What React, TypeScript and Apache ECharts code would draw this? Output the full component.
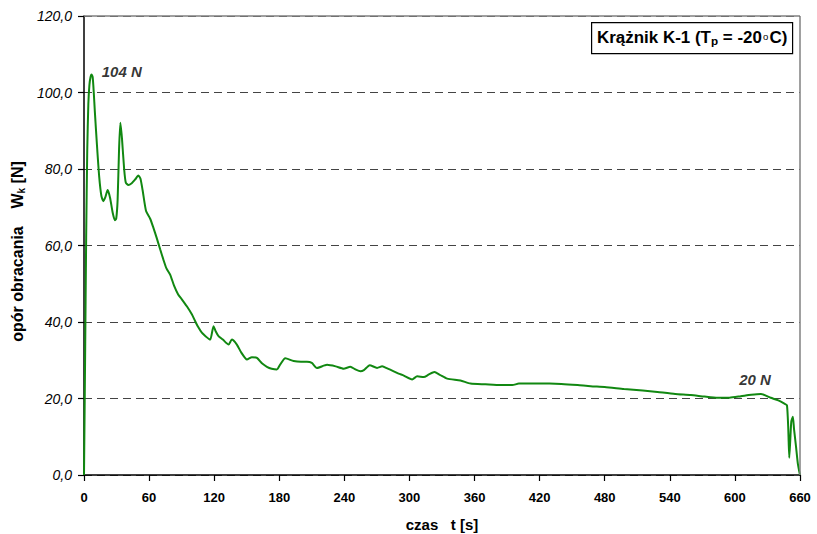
import React, { useEffect, useRef } from "react";
import * as echarts from "echarts";

const timeS: number[] = [
  0, 1, 2, 3, 4, 5, 6, 7, 8, 9, 10, 12, 14, 16, 17.8, 19.5, 21.8, 24, 26.5, 28.5, 29.7, 31, 32.3, 33.5, 35, 37, 38.5, 40.9, 44, 47, 50.1, 52, 54, 57.2, 61, 64, 67, 70.2, 73.2, 76, 79.4, 83, 86.8, 90, 94.8, 99.4, 102.5, 105, 108.6, 112, 116.3, 119.4, 121.5, 124, 128, 133.3, 136.3, 140.9, 145, 150.2, 154.8, 159.4, 164, 168.6, 173, 177.8, 180.9, 185.5, 193.2, 200, 205.5, 210, 214.7, 224, 232, 239.3, 245.5, 250.2, 254.8, 258, 263.4, 270.2, 274.8, 280, 285.5, 290, 294.8, 302.5, 307.1, 313.2, 318, 323, 328, 334.8, 347, 356.3, 370, 384, 394.8, 400.9, 420, 429, 440, 455, 467, 480, 497.8, 515, 528.6, 545, 559.4, 572, 584, 595, 605.5, 615, 624, 633, 640, 646, 648, 649.2, 650.1, 651, 652, 653.4, 654.5, 656.3, 658, 660
];

const resistanceN: number[] = [
  0, 30, 62, 85, 97, 102, 104, 104.7, 104, 100, 95, 86, 78, 73, 71.6, 72.5, 74.5, 72.5, 68.5, 66.6, 67, 72, 85, 92.1, 88, 80, 76.5, 75.8, 76.3, 77.2, 78.3, 77.5, 74.5, 69, 67, 64.6, 62, 59, 56.3, 54, 52.4, 49.5, 47.2, 46, 44.1, 42, 40.2, 38.8, 37.2, 36.3, 35.4, 38.9, 37.5, 36.3, 35.4, 34.1, 35.4, 34.1, 32, 30.2, 30.8, 30.6, 29.2, 28.3, 27.8, 27.6, 28.9, 30.5, 29.8, 29.6, 29.6, 29.3, 28, 28.8, 28.4, 27.8, 28.3, 27.6, 27.1, 27.4, 28.7, 28, 28.4, 27.8, 27.1, 26.5, 26, 25, 25.8, 25.6, 26.3, 26.9, 26.2, 25.2, 24.7, 23.9, 23.7, 23.5, 23.5, 23.9, 23.9, 23.9, 23.8, 23.5, 23.2, 23, 22.5, 22.1, 21.7, 21.2, 20.9, 20.5, 20.2, 20.2, 20.6, 21, 21.2, 20.2, 19.5, 18.6, 18.2, 12, 4.5, 9, 14, 15.2, 12, 7.5, 3, 0
];

const yTicks: number[] = [0, 20, 40, 60, 80, 100, 120];
const xTicks: number[] = [0, 60, 120, 180, 240, 300, 360, 420, 480, 540, 600, 660];

const peakLabel = { t: 34.8, v: 105.6, text: "104 N" };
const endLabel = { t: 618.5, v: 24.9, text: "20 N" };

const FONT = "Arial, 'Liberation Sans', sans-serif";

export default function App() {
  const ref = useRef<HTMLDivElement>(null);
  useEffect(() => {
    if (!ref.current) return;
    const chart = echarts.init(ref.current, undefined, { renderer: "svg" });
    const data = timeS.map((t, i) => [t, resistanceN[i]]);
    const xMax = xTicks[xTicks.length - 1];
    const yMax = yTicks[yTicks.length - 1];
    const tick = { show: true, inside: false, length: 6, interval: 0, lineStyle: { color: "#000", width: 1.2, opacity: 1 } };
    chart.setOption({
      animation: false,
      backgroundColor: "#ffffff",
      grid: { left: 84, right: 17, top: 16, bottom: 59, containLabel: false, outerBoundsMode: "none" },
      xAxis: {
        type: "value",
        min: xTicks[0],
        max: xMax,
        interval: 60,
        axisLine: { show: true, onZero: false, lineStyle: { color: "#000", width: 1.5 } },
        axisTick: tick,
        axisLabel: { color: "#000", fontFamily: FONT, fontWeight: "bold", fontSize: 13, margin: 16 },
        splitLine: { show: false },
        name: "czas   t [s]",
        nameLocation: "middle",
        nameGap: 42,
        nameTextStyle: { color: "#000", fontFamily: FONT, fontWeight: "bold", fontSize: 15 },
      },
      yAxis: {
        type: "value",
        min: yTicks[0],
        max: yMax,
        interval: 20,
        axisLine: { show: true, onZero: false, lineStyle: { color: "#000", width: 1.5 } },
        axisTick: tick,
        axisLabel: {
          color: "#000",
          fontFamily: FONT,
          fontStyle: "italic",
          fontSize: 14,
          margin: 12,
          formatter: (v: number) => v.toFixed(1).replace(".", ","),
        },
        splitLine: { show: true, lineStyle: { color: "#444", type: [8, 5], width: 1 } },
        name: "{a|opór obracania    W}{s|k}{a| [N]}",
        nameLocation: "middle",
        nameGap: 57,
        nameTextStyle: {
          padding: [0, 12, 0, 0],
          rich: {
            a: { color: "#000", fontFamily: FONT, fontWeight: "bold", fontSize: 16 },
            s: { color: "#000", fontFamily: FONT, fontWeight: "bold", fontSize: 10, verticalAlign: "bottom", padding: [7, 0, 0, 0] },
          },
        },
      },
      series: [
        {
          type: "line",
          data,
          showSymbol: false,
          smooth: 0.2,
          lineStyle: { color: "#118811", width: 2 },
          itemStyle: { color: "#118811" },
          z: 3,
          markLine: {
            silent: true,
            symbol: "none",
            label: { show: false },
            lineStyle: { color: "#808080", type: "solid", width: 1.5 },
            data: [{ xAxis: xMax }, { yAxis: yMax }],
          },
        },
        {
          type: "scatter",
          data: [
            [peakLabel.t, peakLabel.v, peakLabel.text],
            [endLabel.t, endLabel.v, endLabel.text],
          ],
          symbolSize: 1,
          itemStyle: { color: "rgba(0,0,0,0)" },
          z: 5,
          label: {
            show: true,
            position: "inside",
            formatter: (p: any) => p.value[2],
            color: "#000",
            textBorderWidth: 0,
            textBorderColor: "transparent",
            fontFamily: FONT,
            fontWeight: "bold",
            fontStyle: "italic",
            fontSize: 15,
          },
          silent: true,
        },
      ],
      graphic: [
        {
          type: "rect",
          left: 591,
          top: 22,
          shape: { width: 201, height: 31 },
          style: { fill: "#fff", stroke: "#000", lineWidth: 1.2 },
          z: 10,
        },
        {
          type: "text",
          x: 597,
          y: 28,
          scaleX: 1.06,
          z: 11,
          style: {
            text: "{a|Krążnik K-1 (T}{s|p}{a| = -20}{d|o}{a|C)}",
            rich: {
              a: { fontFamily: FONT, fontWeight: "bold", fontSize: 16, fill: "#000" },
              s: { fontFamily: FONT, fontWeight: "bold", fontSize: 11, fill: "#000", padding: [8, 0, 0, 0] },
              d: { fontFamily: FONT, fontWeight: "normal", fontSize: 9, fill: "#000", padding: [0, 1, 0, 1] },
            },
          },
        },
      ],
    });
    return () => chart.dispose();
  }, []);
  return <div ref={ref} style={{ width: 817, height: 534, position: "absolute", left: 0, top: 0 }} />;
}
